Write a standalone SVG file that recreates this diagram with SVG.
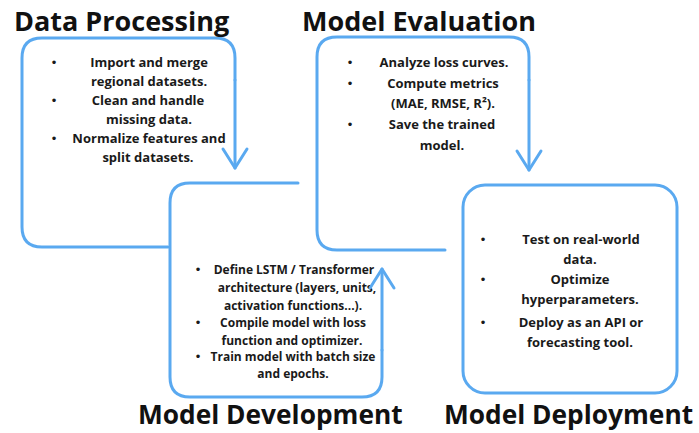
<svg xmlns="http://www.w3.org/2000/svg" width="699" height="433" viewBox="0 0 699 433">
<style>
.box{fill:none;stroke:#5aa9f0;stroke-width:3;stroke-linecap:round;stroke-linejoin:round}
.title{font-family:"Open Sans","Liberation Sans",sans-serif;font-weight:700;font-size:27px;fill:#111}
.bt{font-size:26.3px}
.t{font-family:"Open Sans","Liberation Sans",sans-serif;font-weight:700;font-size:13px;fill:#1a1a1a;text-anchor:middle}
.s{font-size:12px}
.b{font-family:"Liberation Sans",sans-serif;font-size:13px;fill:#1a1a1a;text-anchor:middle}
</style>
<defs>
<marker id="v" markerUnits="userSpaceOnUse" markerWidth="40" markerHeight="40" viewBox="-25 -20 40 40" refX="0" refY="0" orient="auto" overflow="visible">
<path d="M -19,-12 L 0,0 L -19,12" fill="none" stroke="#5aa9f0" stroke-width="3" stroke-linecap="round" stroke-linejoin="round"/>
</marker>
</defs>
<rect width="699" height="433" fill="#fff"/>

<g id="data-processing">
<path class="box" d="M 168,247 L 42,247 Q 22,247 22,227 L 22,58 Q 22,38 42,38 L 215,38 Q 235,38 235,58 L 235,80"/>
<text class="title" x="14" y="31">Data Processing</text>
<text class="b" x="54" y="67">•</text>
<text class="t" x="149" y="67">Import and merge</text>
<text class="t" x="149" y="86">regional datasets.</text>
<text class="b" x="54" y="105">•</text>
<text class="t" x="148" y="105">Clean and handle</text>
<text class="t" x="149" y="124">missing data.</text>
<text class="b" x="54" y="143">•</text>
<text class="t" x="149" y="143">Normalize features and</text>
<text class="t" x="148" y="162">split datasets.</text>
</g>

<g id="model-evaluation">
<path class="box" d="M 445,250 L 337,250 Q 317,250 317,230 L 317,57 Q 317,37 337,37 L 509,37 Q 529,37 529,57 L 529,80"/>
<text class="title" x="302" y="31">Model Evaluation</text>
<text class="b" x="350" y="67">•</text>
<text class="t" x="444" y="67">Analyze loss curves.</text>
<text class="b" x="350" y="88">•</text>
<text class="t" x="443" y="88">Compute metrics</text>
<text class="t" x="443" y="108">(MAE, RMSE, R²).</text>
<text class="b" x="350" y="129">•</text>
<text class="t" x="442" y="129">Save the trained</text>
<text class="t" x="442" y="150">model.</text>
</g>

<g id="model-development">
<path class="box" d="M 298,183 L 190,183 Q 170,183 170,203 L 170,377 Q 170,397 190,397 L 362,397 Q 382,397 382,377 L 382,350"/>
<text class="title bt" x="138" y="424">Model Development</text>
<text class="b s" x="198" y="274">•</text>
<text class="t s" x="294" y="274">Define LSTM / Transformer</text>
<text class="t s" x="297" y="292">architecture (layers, units,</text>
<text class="t s" x="293" y="310">activation functions...).</text>
<text class="b s" x="198" y="327">•</text>
<text class="t s" x="293" y="327">Compile model with loss</text>
<text class="t s" x="292" y="345">function and optimizer.</text>
<text class="b s" x="198" y="361">•</text>
<text class="t s" x="293" y="361">Train model with batch size</text>
<text class="t s" x="293" y="378">and epochs.</text>
</g>

<g id="model-deployment">
<rect class="box" x="463" y="185" width="214" height="208" rx="22" ry="22"/>
<text class="title bt" x="444" y="424">Model Deployment</text>
<text class="b" x="483" y="244">•</text>
<text class="t" x="581" y="244">Test on real-world</text>
<text class="t" x="580" y="264">data.</text>
<text class="b" x="483" y="284">•</text>
<text class="t" x="580" y="284">Optimize</text>
<text class="t" x="580" y="304">hyperparameters.</text>
<text class="b" x="483" y="327">•</text>
<text class="t" x="581" y="327">Deploy as an API or</text>
<text class="t" x="580" y="347">forecasting tool.</text>
</g>

<g id="connectors">
<path class="box" d="M 235,80 L 235,168" marker-end="url(#v)"/>
<path class="box" d="M 529,80 L 529,170" marker-end="url(#v)"/>
<path class="box" d="M 382,350 L 382,269" marker-end="url(#v)"/>
</g>
</svg>
